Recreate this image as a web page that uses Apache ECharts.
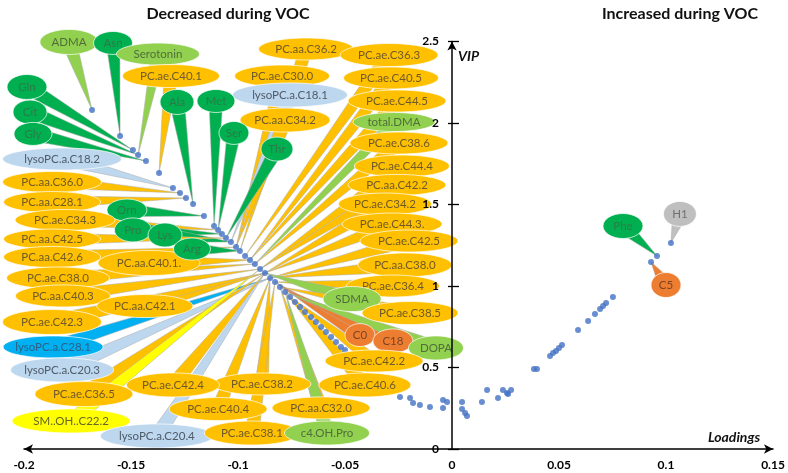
<!DOCTYPE html>
<html><head><meta charset="utf-8">
<script src="https://cdn.jsdelivr.net/npm/echarts@6/dist/echarts.min.js"></script>
<style>html,body{margin:0;padding:0;background:#fff}#c{width:788px;height:473px}</style>
</head><body><div id="c"></div>
<script>
// Loadings (x) and VIP (y) of the metabolites
const pointX = [
-0.1682,-0.1551,-0.1491,-0.1467,-0.1430,-0.1369,-0.1304,-0.1271,-0.1243,-0.1210,
-0.1159,-0.1112,-0.1093,-0.1075,-0.1056,-0.1033,-0.1009,-0.0991,-0.0967,-0.0944,
-0.0921,-0.0897,-0.0874,-0.0850,-0.0827,-0.0804,-0.0780,-0.0757,-0.0734,-0.0710,
-0.0687,-0.0659,-0.0636,-0.0612,-0.0589,-0.0565,-0.0542,-0.0519,-0.0500,
-0.0243,-0.0196,-0.0182,-0.0150,-0.0103,-0.0042,-0.0023,-0.0042,
0.0047,0.0047,0.0061,0.0070,0.0140,0.0164,0.0215,0.0238,0.0257,0.0262,0.0276,
0.0383,0.0397,0.0458,0.0472,0.0486,0.0500,0.0514,0.0589,0.0636,0.0668,0.0692,0.0706,0.0720,0.0752,
0.0930,0.0958,0.1023];
const pointY = [
2.080,1.920,1.834,1.804,1.767,1.693,1.601,1.571,1.540,1.503,
1.429,1.368,1.344,1.319,1.294,1.270,1.239,1.215,1.184,1.160,
1.135,1.104,1.080,1.049,1.025,0.994,0.963,0.933,0.902,0.871,
0.840,0.810,0.779,0.748,0.718,0.687,0.656,0.626,0.607,
0.319,0.313,0.282,0.270,0.258,0.301,0.288,0.252,
0.288,0.245,0.221,0.202,0.288,0.362,0.313,0.362,0.344,0.337,0.362,
0.491,0.491,0.571,0.589,0.601,0.620,0.638,0.730,0.785,0.828,0.859,0.877,0.896,0.933,
1.147,1.184,1.264];

const xTickValues = [-0.2,-0.15,-0.1,-0.05,0,0.05,0.1,0.15];
const yTickValues = [0,0.5,1,1.5,2,2.5];

// Callout annotations: [label, colour kind, centre x, centre y (data units), width px, height px, index of point]
const callouts = [
['ADMA','lg',-0.179,2.497,58,25,0],
['Asn','dg',-0.1584,2.491,39,23,1],
['PC.aa.C36.2','or',-0.0682,2.454,95,22,17],
['Serotonin','lg',-0.1374,2.423,83,22,3],
['PC.ae.C36.3','or',-0.0294,2.417,98,23,18],
['PC.ae.C40.1','or',-0.1313,2.288,97,23,5],
['PC.ae.C30.0','or',-0.0794,2.288,95,22,16],
['PC.ae.C40.5','or',-0.0285,2.276,95,22,19],
['Gln','dg',-0.1986,2.221,40,25,2],
['lysoPC.a.C18.1','lb',-0.0757,2.172,115,24,15],
['PC.ae.C44.5','or',-0.0257,2.135,98,22,19],
['Met','dg',-0.1103,2.135,38,23,11],
['Ala','dg',-0.1285,2.129,34,25,9],
['Cit','dg',-0.1972,2.067,34,24,3],
['PC.aa.C34.2','or',-0.078,2.018,90,24,16],
['total.DMA','lg',-0.0271,2.006,82,19,20],
['Ser','dg',-0.1019,1.939,30,23,12],
['Gly','dg',-0.1958,1.933,38,23,4],
['PC.ae.C38.6','or',-0.0248,1.877,98,22,20],
['Thr','dg',-0.0818,1.840,32,24,14],
['lysoPC.a.C18.2','lb',-0.1822,1.779,119,22,6],
['PC.ae.C44.4','or',-0.0234,1.736,95,22,21],
['PC.aa.C36.0','or',-0.1869,1.638,99,21,7],
['PC.aa.C42.2','or',-0.0257,1.620,98,21,21],
['PC.aa.C28.1','or',-0.1869,1.515,97,21,8],
['PC.ae.C34.2','or',-0.0313,1.503,93,22,22],
['Orn','dg',-0.1519,1.466,40,22,10],
['H1','gr',0.1065,1.442,33,25,74],
['PC.ae.C34.3','or',-0.1808,1.405,100,21,12],
['PC.ae.C44.3.','or',-0.028,1.380,100,22,22],
['Phe','dg',0.0799,1.368,40,25,73],
['Pro','dg',-0.1491,1.344,37,24,13],
['Lys','dg',-0.1341,1.313,34,24,15],
['PC.aa.C42.5','or',-0.1869,1.288,97,20,14],
['PC.ae.C42.5','or',-0.0201,1.276,98,22,23],
['PC.aa.C42.6','or',-0.1869,1.178,97,21,16],
['PC.aa.C40.1.','or',-0.1416,1.141,102,25,19],
['Arg','dg',-0.1215,1.227,37,22,17],
['PC.aa.C38.0','or',-0.022,1.129,94,24,23],
['PC.ae.C38.0','or',-0.1841,1.049,103,22,20],
['C5','rd',0.1,1.006,30,25,72],
['PC.ae.C36.4','or',-0.0276,1.000,93,22,24],
['PC.aa.C40.3','or',-0.1818,0.939,95,22,21],
['SDMA','lg',-0.0467,0.920,58,25,22],
['PC.aa.C42.1','or',-0.1435,0.877,96,23,22],
['PC.ae.C38.5','or',-0.0196,0.834,96,23,25],
['PC.ae.C42.3','or',-0.1869,0.779,99,25,22],
['C0','rd',-0.0430,0.699,30,23,24],
['C18','rd',-0.0276,0.663,40,24,25],
['lysoPC.a.C28.1','bb',-0.1864,0.626,100,22,23],
['DOPA','lg',-0.0075,0.620,55,24,26],
['PC.ae.C42.2','or',-0.0364,0.540,98,22,27],
['lysoPC.a.C20.3','lb',-0.1822,0.485,103,24,23],
['PC.ae.C38.2','or',-0.0888,0.399,98,22,23],
['PC.ae.C42.4','or',-0.1304,0.393,93,24,22],
['PC.ae.C40.6','or',-0.0407,0.393,92,24,26],
['PC.ae.C36.5','or',-0.172,0.337,98,25,22],
['PC.aa.C32.0','or',-0.0612,0.252,98,22,25],
['PC.ae.C40.4','or',-0.1093,0.245,98,23,23],
['SM..OH..C22.2','ye',-0.178,0.172,118,24,21],
['lysoPC.a.C20.4','lb',-0.1379,0.080,113,24,22],
['PC.ae.C38.1','or',-0.0935,0.098,95,24,24],
['c4.OH.Pro','lg',-0.0584,0.098,85,24,26]
];

const kinds = {
  or:{fill:'#FFC000', text:'#6e5a2a'},
  dg:{fill:'#00B050', text:'#2a7c46'},
  lg:{fill:'#92D050', text:'#4f6e3a'},
  lb:{fill:'#BDD7EE', text:'#4f5b68'},
  bb:{fill:'#00B0F0', text:'#2d5f86'},
  ye:{fill:'#FFFF00', text:'#66652a'},
  rd:{fill:'#ED7D31', text:'#7a4526'},
  gr:{fill:'#BFBFBF', text:'#707070'}
};

const scatterData = pointX.map((x,i)=>[x, pointY[i]]);
const calloutData = callouts.map(c=>[c[2], c[3], pointX[c[6]], pointY[c[6]]]);

function tailItem(params, api){
  const c = callouts[params.dataIndex];
  const p0 = api.coord([api.value(0), api.value(1)]);
  const p1 = api.coord([api.value(2), api.value(3)]);
  const dx = p1[0]-p0[0], dy = p1[1]-p0[1];
  const L = Math.hypot(dx,dy) || 1;
  const nx = -dy/L, ny = dx/L, hw = c[5]*0.3;
  return {type:'polygon', shape:{points:[[p0[0]+nx*hw,p0[1]+ny*hw],[p1[0],p1[1]],[p0[0]-nx*hw,p0[1]-ny*hw]]},
    style:{fill:kinds[c[1]].fill, stroke:'rgba(175,175,175,0.75)', lineWidth:0.7}};
}
function bubbleItem(params, api){
  const c = callouts[params.dataIndex];
  const k = kinds[c[1]];
  const p0 = api.coord([api.value(0), api.value(1)]);
  return {type:'group', children:[
    {type:'ellipse', shape:{cx:p0[0], cy:p0[1], rx:c[4]/2, ry:c[5]/2},
      style:{fill:k.fill, stroke:'rgba(255,255,255,0.7)', lineWidth:1}},
    {type:'text', style:{x:p0[0], y:p0[1]+0.5, text:c[0], fill:k.text, font:'11.5px Lato',
      align:'center', verticalAlign:'middle', textAlign:'center', textVerticalAlign:'middle'}}
  ]};
}

const chart = echarts.init(document.getElementById('c'));
chart.setOption({
  animation:false,
  backgroundColor:'#fff',
  grid:[
    {left:24, right:15, top:41.5, bottom:24, containLabel:false, outerBoundsMode:'none'},
    {left:452, right:15, top:41.5, bottom:24, containLabel:false, outerBoundsMode:'none'}
  ],
  xAxis:[
    {type:'value', gridIndex:0, min:-0.2, max:0.15, interval:0.05, z:5,
     axisLine:{onZero:false, lineStyle:{color:'#000', width:1.5}, symbol:['arrow','arrow'], symbolSize:[7,9]},
     axisTick:{show:false}, splitLine:{show:false},
     axisLabel:{show:true, showMinLabel:true, showMaxLabel:true, margin:10, color:'#000', fontWeight:'bold', fontSize:12, fontFamily:'Lato',
       customValues:xTickValues, formatter:v=>String(v)}},
    {type:'value', gridIndex:1, min:0, max:0.15, show:false}
  ],
  yAxis:[
    {type:'value', gridIndex:0, min:0, max:2.5, interval:0.5, show:false},
    {type:'value', gridIndex:1, min:0, max:2.5, interval:0.5, position:'left', z:5,
     axisLine:{show:true, onZero:false, lineStyle:{color:'#000', width:1.5}, symbol:['none','arrow'], symbolSize:[7,9]},
     axisTick:{show:true, length:4, lineStyle:{color:'#000', width:1.3}}, splitLine:{show:false},
     axisLabel:{margin:13, color:'#000', fontWeight:'bold', fontSize:12, fontFamily:'Lato',
       customValues:yTickValues, formatter:v=>String(v)}},
    {type:'value', gridIndex:1, min:0, max:2.5, interval:0.5, position:'left', z:5,
     axisLine:{show:false, onZero:false},
     axisTick:{show:true, inside:true, length:7, lineStyle:{color:'#000', width:1.3}},
     axisLabel:{show:false}, splitLine:{show:false}}
  ],
  graphic:[
    {type:'text', x:228, y:14, z:10, style:{text:'Decreased during VOC', font:'bold 16px Lato', fill:'#111', align:'center', verticalAlign:'middle', textAlign:'center', textVerticalAlign:'middle'}},
    {type:'text', x:680, y:14, z:10, style:{text:'Increased during VOC', font:'bold 16px Lato', fill:'#111', align:'center', verticalAlign:'middle', textAlign:'center', textVerticalAlign:'middle'}},
    {type:'text', x:458, y:56, z:10, style:{text:'VIP', font:'italic bold 14px Lato', fill:'#111', align:'left', verticalAlign:'middle', textAlign:'left', textVerticalAlign:'middle'}},
    {type:'text', x:734, y:437, z:10, style:{text:'Loadings', font:'italic bold 14px Lato', fill:'#111', align:'center', verticalAlign:'middle', textAlign:'center', textVerticalAlign:'middle'}}
  ],
  series:[
    {type:'custom', name:'tails', xAxisIndex:0, yAxisIndex:0, z:1, clip:false, renderItem:tailItem, data:calloutData, encode:{x:[0,2], y:[1,3]}, silent:true},
    {type:'scatter', name:'metabolites', xAxisIndex:0, yAxisIndex:0, z:2, symbolSize:6, itemStyle:{color:'#4472C4'}, data:scatterData},
    {type:'custom', name:'labels', xAxisIndex:0, yAxisIndex:0, z:3, clip:false, renderItem:bubbleItem, data:calloutData, encode:{x:[0,2], y:[1,3]}, silent:true}
  ]
});
</script>
</body></html>
